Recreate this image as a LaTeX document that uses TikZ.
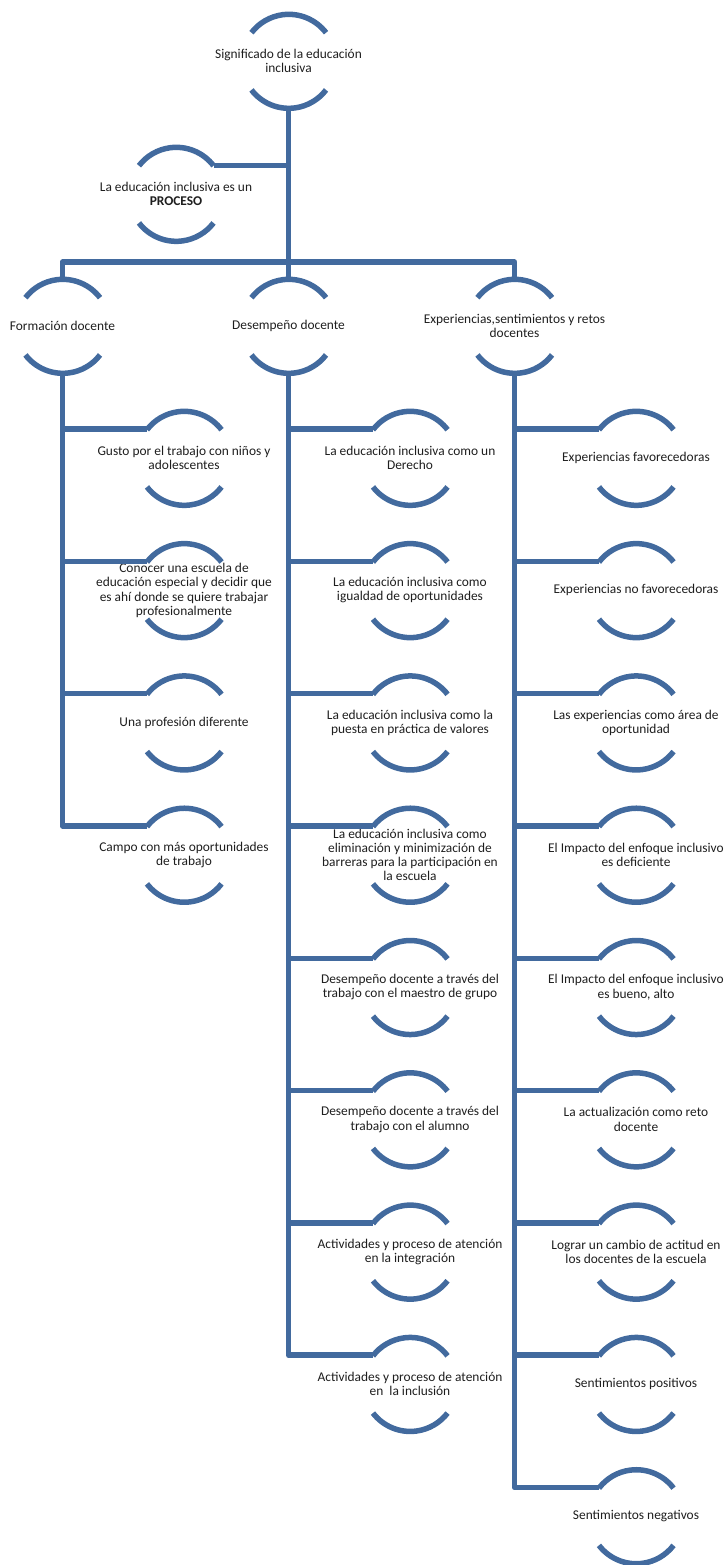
\documentclass[tikz,border=0pt]{standalone}
\usepackage{fontspec}
\setmainfont{Carlito}
\definecolor{lineblue}{RGB}{66,106,158}
\definecolor{txtcol}{RGB}{30,30,30}
\tikzset{
  x=1pt, y=-1pt,
  bub/.style={circle, minimum size=94pt, inner sep=0pt, outer sep=0pt, draw=none},
  txt/.style={align=center, inner sep=0pt, font=\fontsize{13.4}{14.3}\selectfont, text=txtcol},
  conn/.style={draw=lineblue, line width=5.5pt, line join=round},
  arcline/.style={draw=lineblue, line width=5.5pt},
}
\newcommand\bub[4]{%
  \node[bub] (#1) at (#2,#3) {};
  \node[txt] (#1t) at (#1.center) {#4};
  \draw[arcline] (#1.37.5) arc[start angle=37.5, end angle=142.5, radius=47pt];
  \draw[arcline] (#1.-142.5) arc[start angle=-142.5, end angle=-37.5, radius=47pt];
}
\begin{document}
\begin{tikzpicture}
\useasboundingbox (0,0) rectangle (725,1565);
% root and assistant
\bub{root}{288.5}{61}{Significado de la educación\\inclusiva}
\bub{proc}{176}{194}{La educación inclusiva es un\\\textbf{PROCESO}}
% level 1
\bub{f}{62.5}{326}{Formación docente}
\bub{d}{288.5}{326}{Desempeño docente}
\bub{e}{514.5}{326}{Experiencias,sentimientos y retos\\docentes}
% Formación children
\bub{f1}{184}{458}{Gusto por el trabajo con niños y\\adolescentes}
\bub{f2}{184}{590.3}{Conocer una escuela de\\educación especial y decidir que\\es ahí donde se quiere trabajar\\profesionalmente}
\bub{f3}{184}{722.6}{Una profesión diferente}
\bub{f4}{184}{854.9}{Campo con más oportunidades\\de trabajo}
% Desempeño children
\bub{d1}{410}{458}{La educación inclusiva como un\\Derecho}
\bub{d2}{410}{590.3}{La educación inclusiva como\\igualdad de oportunidades}
\bub{d3}{410}{722.6}{La educación inclusiva como la\\puesta en práctica de valores}
\bub{d4}{410}{854.9}{La educación inclusiva como\\eliminación y minimización de\\barreras para la participación en\\la escuela}
\bub{d5}{410}{987.2}{Desempeño docente a través del\\trabajo con el maestro de grupo}
\bub{d6}{410}{1119.5}{Desempeño docente a través del\\trabajo con el alumno}
\bub{d7}{410}{1251.8}{Actividades y proceso de atención\\en la integración}
\bub{d8}{410}{1384.1}{Actividades y proceso de atención\\en\ \ la inclusión}
% Experiencias children
\bub{e1}{636}{458}{Experiencias favorecedoras}
\bub{e2}{636}{590.3}{Experiencias no favorecedoras}
\bub{e3}{636}{722.6}{Las experiencias como área de\\oportunidad}
\bub{e4}{636}{854.9}{El Impacto del enfoque inclusivo\\es deficiente}
\bub{e5}{636}{987.2}{El Impacto del enfoque inclusivo\\es bueno, alto}
\bub{e6}{636}{1119.5}{La actualización como reto\\docente}
\bub{e7}{636}{1251.8}{Lograr un cambio de actitud en\\los docentes de la escuela}
\bub{e8}{636}{1384.1}{Sentimientos positivos}
\bub{e9}{636}{1516.4}{Sentimientos negativos}
% connectors: root level
\coordinate (bar) at (288.5,262);
\draw[conn] (root.south) -- (d.north);
\draw[conn] (f.north) -- (f.north |- bar) -- (e.north |- bar) -- (e.north);
\draw[conn] (proc.37.5) -- (proc.37.5 -| root.south);
% Formación
\draw[conn] (f.south) -- (f.south |- f4.142.5) -- (f4.142.5);
\foreach \c in {f1,f2,f3}{\draw[conn] (f.south |- \c.142.5) -- (\c.142.5);}
% Desempeño
\draw[conn] (d.south) -- (d.south |- d8.142.5) -- (d8.142.5);
\foreach \c in {d1,d2,d3,d4,d5,d6,d7}{\draw[conn] (d.south |- \c.142.5) -- (\c.142.5);}
% Experiencias
\draw[conn] (e.south) -- (e.south |- e9.142.5) -- (e9.142.5);
\foreach \c in {e1,e2,e3,e4,e5,e6,e7,e8}{\draw[conn] (e.south |- \c.142.5) -- (\c.142.5);}
\end{tikzpicture}
\end{document}
